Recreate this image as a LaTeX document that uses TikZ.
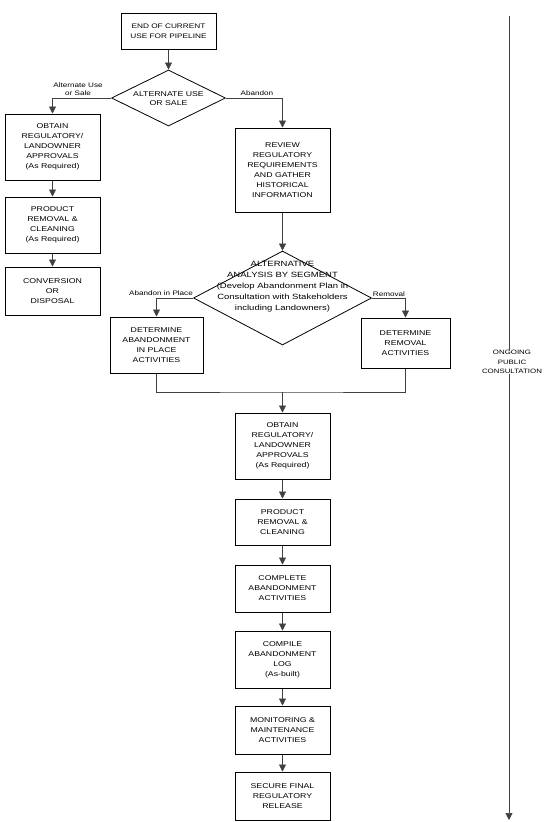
\documentclass[tikz,border=0pt]{standalone}
\usepackage{fontspec}
\setmainfont{Liberation Sans}[FakeStretch=1.25]
\usetikzlibrary{shapes.geometric,arrows.meta}
\begin{document}
\begin{tikzpicture}[x=1pt,y=-1pt,
  box/.style={draw=black, line width=1pt, minimum width=95pt, align=center,
    font=\fontsize{7}{10}\selectfont, inner sep=0pt},
  dia/.style={diamond, draw=black, line width=0.8pt, inner sep=0pt},
  diatext/.style={align=center, inner sep=0pt},
  conn/.style={draw=black!75, line width=0.6pt},
  arr/.style={conn, -{Triangle[width=7pt,length=7pt]}},
  lab/.style={font=\fontsize{6.5}{8.5}\selectfont, inner sep=0pt, align=center}]
\fill[white] (0,0) rectangle (548,822);
\useasboundingbox (0,0) rectangle (548,822);

% top
\node[box, minimum height=36pt, font=\fontsize{6.6}{10}\selectfont] (top) at (168.5,31) {END OF CURRENT\\USE FOR PIPELINE};
\node[dia, minimum width=114pt, minimum height=56pt] (d1) at (168.5,98) {};
\node[diatext, font=\fontsize{7}{9}\selectfont] (d1t) at (168.5,99) {ALTERNATE USE\\OR SALE};

% left column
\node[box, minimum height=66pt] (l1) at (52.5,147) {OBTAIN\\REGULATORY/\\LANDOWNER\\APPROVALS\\(As Required)};
\node[box, minimum height=56pt] (l2) at (52.5,225) {PRODUCT\\REMOVAL \&\\CLEANING\\(As Required)};
\node[box, minimum height=48pt] (l3) at (52.5,291) {CONVERSION\\OR\\DISPOSAL};

% right branch
\node[box, minimum height=84pt] (rev) at (282.5,170) {REVIEW\\REGULATORY\\REQUIREMENTS\\AND GATHER\\HISTORICAL\\INFORMATION};
\node[dia, minimum width=178pt, minimum height=94pt] (d2) at (282.5,298) {};
\node[diatext, font=\fontsize{7.6}{11}\selectfont] (d2t) at (282.5,287) {ALTERNATIVE\\ANALYSIS BY SEGMENT\\(Develop Abandonment Plan in\\Consultation with Stakeholders\\including Landowners)};

\node[box, minimum width=93pt, minimum height=56pt] (dl) at (156.5,345) {DETERMINE\\ABANDONMENT\\IN PLACE\\ACTIVITIES};
\node[box, minimum width=89pt, minimum height=50pt] (dr) at (405.5,343) {DETERMINE\\REMOVAL\\ACTIVITIES};
\coordinate (m) at (282.5,392);

% bottom column
\node[box, minimum height=66pt] (b1) at (282.5,446) {OBTAIN\\REGULATORY/\\LANDOWNER\\APPROVALS\\(As Required)};
\node[box, minimum height=46pt] (b2) at (282.5,522) {PRODUCT\\REMOVAL \&\\CLEANING};
\node[box, minimum height=47pt] (b3) at (282.5,588.5) {COMPLETE\\ABANDONMENT\\ACTIVITIES};
\node[box, minimum height=57pt] (b4) at (282.5,659.5) {COMPILE\\ABANDONMENT\\LOG\\(As-built)};
\node[box, minimum height=48pt] (b5) at (282.5,730) {MONITORING \&\\MAINTENANCE\\ACTIVITIES};
\node[box, minimum height=48pt] (b6) at (282.5,796) {SECURE FINAL\\REGULATORY\\RELEASE};

% labels
\node[lab] (la1) at (78,89) {Alternate Use\\or Sale};
\node[lab] (la2) at (257,93) {Abandon};
\node[lab] (la3) at (161,293) {Abandon in Place};
\node[lab] (la4) at (389,294) {Removal};

% ongoing consultation
\coordinate (vtop) at (509,16);
\coordinate (vbot) at (509,820);
\node[lab, font=\fontsize{6.3}{9.5}\selectfont] (ong) at (512,362) {ONGOING\\PUBLIC\\CONSULTATION};
\draw[conn] (vtop) -- (vtop |- ong.north);
\draw[arr] (vtop |- ong.south) -- (vbot);

% connectors
\draw[arr] (top.south) -- (d1.north);
\draw[arr] (d1.west) -| (l1.north);
\draw[arr] (l1.south) -- (l2.north);
\draw[arr] (l2.south) -- (l3.north);
\draw[arr] (d1.east) -| (rev.north);
\draw[arr] (rev.south) -- (d2.north);
\draw[arr] (d2.west) -| (dl.north);
\draw[arr] (d2.east) -| (dr.north);
\draw[conn] (dl.south) |- (m) -| (dr.south);
\draw[arr] (m) -- (b1.north);
\draw[arr] (b1.south) -- (b2.north);
\draw[arr] (b2.south) -- (b3.north);
\draw[arr] (b3.south) -- (b4.north);
\draw[arr] (b4.south) -- (b5.north);
\draw[arr] (b5.south) -- (b6.north);
\end{tikzpicture}
\end{document}
